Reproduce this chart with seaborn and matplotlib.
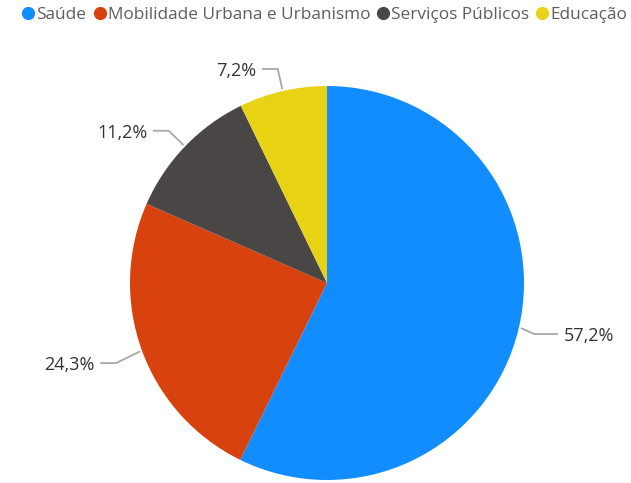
import numpy as np
import matplotlib
matplotlib.use("Agg")
import matplotlib.pyplot as plt
from matplotlib.lines import Line2D
import seaborn as sns

categories = ["Saúde", "Mobilidade Urbana e Urbanismo", "Serviços Públicos", "Educação"]
values = [57.2, 24.3, 11.2, 7.2]
labels = ["57,2%", "24,3%", "11,2%", "7,2%"]
colors = ["#118DFF", "#D8420F", "#4A4646", "#E8D214"]

sns.set_theme(style="white")
plt.rcParams["font.family"] = ["Open Sans", "DejaVu Sans"]

W, H = 631, 483
fig = plt.figure(figsize=(W / 100, H / 100), dpi=100)
cx, cy, r = 327, 283, 197
ax = fig.add_axes([(cx - r) / W, (H - cy - r) / H, 2 * r / W, 2 * r / H])
wedges, _ = ax.pie(values, colors=colors, startangle=90, counterclock=False,
                   radius=1.0, wedgeprops=dict(linewidth=0))
ax.set_xlim(-1, 1)
ax.set_ylim(-1, 1)
ax.set_aspect("equal")
ax.axis("off")

for w, lab in zip(wedges, labels):
    ang = np.deg2rad((w.theta1 + w.theta2) / 2)
    x0, y0 = np.cos(ang), np.sin(ang)
    rr = 1.08 if y0 < 0 and x0 > 0 else (1.14 if y0 < 0 else 1.115)
    x1, y1 = rr * x0, rr * y0 - (0.015 if y0 < 0 else 0)
    sgn = 1 if x0 > 0 else -1
    x2 = x1 + sgn * (0.12 if x0 > 0 else 0.08)
    ax.plot([x0 * 1.01, x1, x2], [y0 * 1.01, y1, y1], color="#A8A8A8", lw=1.3,
            clip_on=False, solid_capstyle="butt")
    ax.text(x2 + sgn * 0.028, y1 - 0.01, lab, ha="left" if sgn > 0 else "right",
            va="center", fontsize=13, color="#333333", clip_on=False)

handles = [Line2D([0], [0], marker="o", color="w", markerfacecolor=c,
                  markeredgewidth=0, markersize=9.5) for c in colors]
fig.legend(handles, categories, loc="upper left", bbox_to_anchor=(21 / W, 1 - 7 / H),
           ncol=4, frameon=False, fontsize=12.4, handlelength=0.85, handletextpad=0.05,
           columnspacing=0.33, labelcolor="#605E5C", borderaxespad=0, borderpad=0)

fig.savefig("out.png", dpi=100)
